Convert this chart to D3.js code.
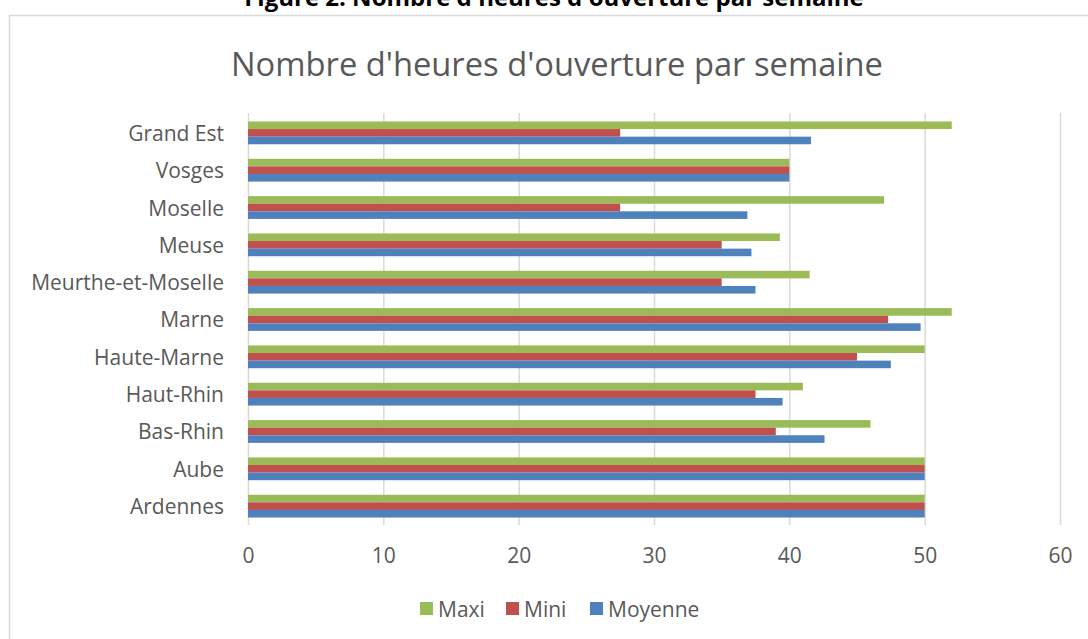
<!DOCTYPE html>
<html><head><meta charset="utf-8">
<script src="https://cdn.jsdelivr.net/npm/d3@7"></script>
<style>body{margin:0;background:#fff;}svg{display:block;}</style>
</head><body>
<script>
const categories = ["Grand Est","Vosges","Moselle","Meuse","Meurthe-et-Moselle","Marne","Haute-Marne","Haut-Rhin","Bas-Rhin","Aube","Ardennes"];
const maxi    = [52, 40, 47, 39.3, 41.5, 52, 50, 41, 46, 50, 50];
const mini    = [27.5, 40, 27.5, 35, 35, 47.3, 45, 37.5, 39, 50, 50];
const moyenne = [41.6, 40, 36.9, 37.2, 37.5, 49.7, 47.5, 39.5, 42.6, 50, 50];
const seriesNames = ["Maxi","Mini","Moyenne"];
const seriesColors = ["#9BBB59","#C0504D","#4F81BD"];
const xTicks = [0,10,20,30,40,50,60];

const W = 1088, H = 639;
const svg = d3.select("body").append("svg").attr("width", W).attr("height", H);
const font = "'Open Sans', 'Liberation Sans', sans-serif";

svg.append("text").attr("x", 554).attr("y", 6).attr("text-anchor","middle")
  .attr("font-family", font).attr("font-weight","bold").attr("font-size", 24).attr("fill","#000")
  .text("Figure 2. Nombre d'heures d'ouverture par semaine");

svg.append("rect").attr("x", 9.5).attr("y", 15.5).attr("width", W).attr("height", H)
  .attr("fill","#fff").attr("stroke","#d9d9d9").attr("stroke-width",1.5);

svg.append("text").attr("x", 557).attr("y", 76).attr("text-anchor","middle")
  .attr("font-family", font).attr("font-weight", 400).attr("font-size", 32.7).attr("fill","#595959")
  .text("Nombre d'heures d'ouverture par semaine");

const x = d3.scaleLinear().domain([0,60]).range([248,1060]);
const y = d3.scaleBand().domain(categories).range([114.2, 524.8]).paddingInner(0.39).paddingOuter(0.195);
const yIn = d3.scaleBand().domain(seriesNames).range([0, y.bandwidth()]);

// grid
svg.append("g").selectAll("line").data(xTicks).join("line")
  .attr("x1", d=>x(d)+0.5).attr("x2", d=>x(d)+0.5).attr("y1", 113).attr("y2", 525)
  .attr("stroke","#d9d9d9").attr("stroke-width",1.5);

const data = [maxi, mini, moyenne];
seriesNames.forEach((s, si) => {
  svg.append("g").selectAll("rect").data(categories).join("rect")
    .attr("x", x(0)).attr("y", c => y(c) + yIn(s))
    .attr("width", (c,i) => x(data[si][i]) - x(0))
    .attr("height", yIn.bandwidth())
    .attr("fill", seriesColors[si]);
});

// x axis labels
const xAxis = d3.axisBottom(x).tickValues(xTicks).tickSize(0).tickPadding(0);
const gx = svg.append("g").attr("transform","translate(0,563)").call(xAxis);
gx.select(".domain").remove();
gx.selectAll("text").attr("font-family", font).attr("font-size", 21).attr("fill","#595959").attr("dy", 0);

// y axis labels
const yAxis = d3.axisLeft(y).tickSize(0).tickPadding(0);
const gy = svg.append("g").attr("transform","translate(224,0)").call(yAxis);
gy.select(".domain").remove();
gy.selectAll("text").attr("font-family", font).attr("font-size", 21).attr("fill","#595959").attr("dy","0.38em");

// legend
const legX = [420, 506, 590];
const lg = svg.append("g");
seriesNames.forEach((s, i) => {
  lg.append("rect").attr("x", legX[i]).attr("y", 602).attr("width", 13).attr("height", 13).attr("fill", seriesColors[i]);
  lg.append("text").attr("x", legX[i]+18).attr("y", 617).attr("font-family", font).attr("font-size", 21)
    .attr("fill","#595959").text(s);
});
</script>
</body></html>
